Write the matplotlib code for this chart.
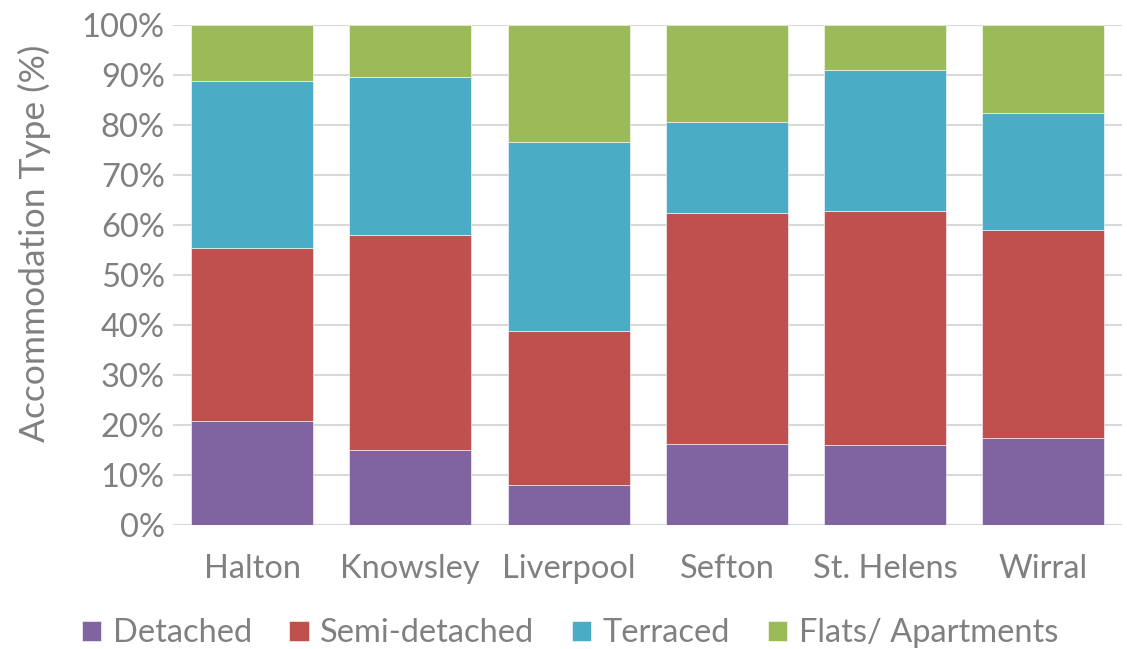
import numpy as np
import matplotlib.pyplot as plt
from matplotlib.ticker import PercentFormatter

plt.rcParams['font.family'] = ['Lato', 'DejaVu Sans']

areas = ["Halton", "Knowsley", "Liverpool", "Sefton", "St. Helens", "Wirral"]
detached = [20.8, 15.0, 8.0, 16.2, 16.0, 17.4]
semi_detached = [34.6, 43.0, 30.8, 46.2, 46.8, 41.6]
terraced = [33.4, 31.6, 37.8, 18.2, 28.2, 23.4]
flats = [11.2, 10.4, 23.4, 19.4, 9.0, 17.6]

series = [
    ("Detached", detached, "#8064A2"),
    ("Semi-detached", semi_detached, "#C0504D"),
    ("Terraced", terraced, "#4BACC6"),
    ("Flats/ Apartments", flats, "#9BBB59"),
]

grey = "#808080"
fs = 23.5

fig = plt.figure(figsize=(11.27, 6.49), dpi=100)
ax = fig.add_axes([0.1535, 0.191, 0.8425, 0.7705])

x = np.arange(len(areas))
bottom = np.zeros(len(areas))
for name, vals, col in series:
    ax.bar(x, vals, 0.77, bottom=bottom, color=col, label=name,
           edgecolor="white", linewidth=0.4, zorder=3)
    bottom += np.array(vals)

ax.set_xlim(-0.5, len(areas) - 0.5)
ax.set_ylim(0, 100)
ax.set_yticks(np.arange(0, 101, 10))
ax.yaxis.set_major_formatter(PercentFormatter(decimals=0))
ax.set_xticks(x)
ax.set_xticklabels(areas)
ax.grid(axis="y", color="#D9D9D9", linewidth=1.5, zorder=0)
for s in ax.spines.values():
    s.set_visible(False)
ax.tick_params(length=0, labelsize=fs, colors=grey, pad=6)
ax.tick_params(axis="x", pad=21)
ax.set_ylabel("Accommodation Type (%)", fontsize=25.5, color=grey)
ax.yaxis.set_label_coords(-0.128, 0.564)

ax.legend(loc="upper center", bbox_to_anchor=(0.418, -0.128), ncol=4,
          frameon=False, fontsize=fs, labelcolor=grey, handlelength=0.6,
          handleheight=0.6, handletextpad=0.35, columnspacing=1.15)

fig.savefig("out.png", dpi=100)
